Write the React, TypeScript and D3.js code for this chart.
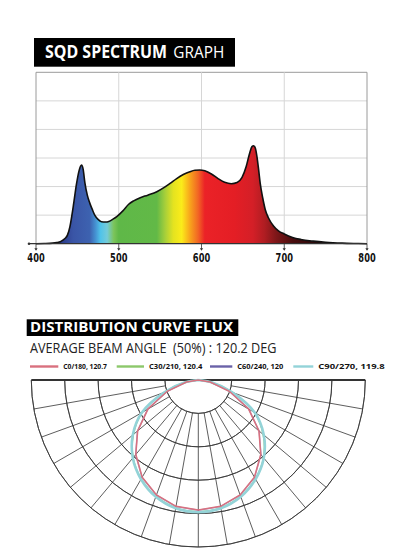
import React from "react";
import * as d3 from "d3";

// ---------- Spectrum data ----------
const wavelengths = [400, 410, 420, 425, 430, 435, 438, 441, 445, 449, 452, 455, 457, 459, 462, 465, 468, 471, 475, 479, 484, 488, 493, 498, 505, 512, 518, 526, 535, 546, 555, 562, 570, 578, 586, 592, 598, 604, 612, 620, 628, 636, 643, 649, 654, 658, 661, 663, 665, 667, 669, 671, 674, 677, 681, 687, 693, 700, 710, 720, 735, 750, 770, 785, 800];
const intensities = [0, 0.005, 0.02, 0.04, 0.08, 0.18, 0.3, 0.6, 1.3, 2.1, 2.55, 2.75, 2.6, 2.15, 1.7, 1.42, 1.2, 1.0, 0.85, 0.77, 0.76, 0.78, 0.86, 0.96, 1.15, 1.38, 1.5, 1.61, 1.7, 1.82, 1.97, 2.11, 2.28, 2.42, 2.52, 2.57, 2.58, 2.55, 2.44, 2.28, 2.15, 2.1, 2.14, 2.32, 2.7, 3.15, 3.4, 3.43, 3.35, 3.05, 2.6, 2.1, 1.6, 1.2, 0.9, 0.62, 0.45, 0.34, 0.22, 0.15, 0.09, 0.05, 0.02, 0.008, 0];
const xTicks = [400, 500, 600, 700, 800];
const yGrid = [1, 2, 3, 4, 5, 6];
const gradStopsNm = [400, 430, 445, 465, 472, 478, 486, 494, 500, 546, 556, 566, 576, 586, 596, 604, 640, 662, 676, 690, 710, 740, 800];
const gradStopsColor = ["#1c2460", "#2a3a8a", "#3a55a6", "#3d62b0", "#4592d2", "#50c3ea", "#74cbd9", "#7cc45a", "#5fb848", "#62b947", "#a6cf3a", "#e4e320", "#fbec1a", "#f8a51c", "#f26524", "#eb2227", "#e41e25", "#d41f27", "#b01d22", "#7e1719", "#4a0d0e", "#2a0909", "#1a0808"];

// ---------- Polar data (angle from nadir, deg; values in cd) ----------
const polarAngles = [-90, -80, -70, -60, -50, -40, -30, -20, -10, 0, 10, 20, 30, 40, 50, 60, 70, 80, 90];
const c0Values = [0, 36, 99, 174, 237, 291, 336, 366, 384, 389, 384, 366, 336, 291, 237, 174, 99, 36, 0];
const c30Values = [0, 40, 108, 194, 254, 304, 342, 371, 389, 395, 389, 371, 342, 304, 254, 194, 108, 40, 0];
const c60Values = [0, 37, 100, 175, 238, 292, 337, 367, 385, 390, 385, 367, 337, 292, 238, 175, 100, 37, 0];
const c90Values = [0, 40, 108, 195, 256, 305, 343, 372, 390, 396, 390, 372, 343, 305, 256, 195, 108, 40, 0];
const seriesNames = ["C0/180, 120.7", "C30/210, 120.4", "C60/240, 120", "C90/270, 119.8"];
const seriesColors = ["#d9707e", "#8cc86a", "#6a62a8", "#93d3d8"];
const ringValues = [100, 200, 300, 400, 500];
const spokeAngles = [-80, -70, -60, -50, -40, -30, -20, -10, 0, 10, 20, 30, 40, 50, 60, 70, 80];

export default function App() {
  // Spectrum geometry
  const x = d3.scaleLinear().domain([400, 800]).range([36, 367]);
  const y = d3.scaleLinear().domain([0, 6]).range([243.7, 72.3]);
  const pts = wavelengths.map((w, i) => [w, intensities[i]] as [number, number]);
  const area = d3.area<[number, number]>().x(d => x(d[0])).y0(y(0)).y1(d => y(d[1])).curve(d3.curveMonotoneX);
  const line = d3.line<[number, number]>().x(d => x(d[0])).y(d => y(d[1])).curve(d3.curveMonotoneX);

  // Polar geometry
  const cx = 198.3, cy = 380;
  const r = d3.scaleLinear().domain([0, 500]).range([0, 167]);
  const rInner = r(100);
  const toA = (deg: number) => Math.PI - (deg * Math.PI) / 180;
  const makePath = (vals: number[], smooth: boolean) =>
    d3.lineRadial<number>()
      .angle((_, i) => toA(polarAngles[i]))
      .radius(v => r(v))
      .curve(smooth ? d3.curveCatmullRom : d3.curveLinear)(vals) as string;
  const arc = (rad: number) =>
    d3.arc()({ innerRadius: rad, outerRadius: rad, startAngle: Math.PI / 2, endAngle: (3 * Math.PI) / 2 }) as string;

  const legendLineX = [30, 116.7, 210, 293.3];
  const legendLineW = [28.3, 27.3, 22.3, 20];
  const legendTextW = [43.7, 53.4, 46, 66.4];

  const gridCol = "#d6d6d6";
  return (
    <svg width={399} height={553} style={{ position: "absolute", left: 0, top: 0, background: "#fff" }}>
      <defs>
        <linearGradient id="spec" gradientUnits="userSpaceOnUse" x1={x(400)} x2={x(800)} y1={0} y2={0}>
          {gradStopsNm.map((nm, i) => (
            <stop key={i} offset={(nm - 400) / 400} stopColor={gradStopsColor[i]} />
          ))}
        </linearGradient>
      </defs>

      {/* Title 1 */}
      <rect x={34} y={38} width={201} height={28.7} fill="#000" />
      <text x={45} y={57.6} fill="#fff" fontFamily="'Open Sans', sans-serif" fontSize={17}>
        <tspan fontWeight={700} textLength={122} lengthAdjust="spacingAndGlyphs">SQD SPECTRUM</tspan>
        <tspan x={173.3} fontWeight={400} textLength={51} lengthAdjust="spacingAndGlyphs">GRAPH</tspan>
      </text>

      {/* Spectrum grid */}
      {yGrid.map(g => (
        <line key={g} x1={36} x2={367} y1={y(g)} y2={y(g)} stroke={g === 6 ? "#9a9a9a" : gridCol} strokeWidth={1} />
      ))}
      {xTicks.map(t => (
        <line key={t} x1={x(t)} x2={x(t)} y1={y(6)} y2={y(0)} stroke={t === 400 || t === 800 ? "#9a9a9a" : gridCol} strokeWidth={1} />
      ))}
      <path d={area(pts) as string} fill="url(#spec)" />
      <path d={line(pts) as string} fill="none" stroke="#111" strokeWidth={1.6} />
      {/* axis */}
      <line x1={29} x2={367} y1={y(0)} y2={y(0)} stroke="#333" strokeWidth={1.2} />
      <circle cx={29} cy={y(0)} r={1.3} fill="#333" />
      {xTicks.map(t => (
        <g key={t}>
          <line x1={x(t)} x2={x(t)} y1={y(0)} y2={y(0) + 6} stroke="#333" strokeWidth={0.8} />
          <path d={`M${x(t) - 1.6},${y(0) + 4.5} L${x(t) + 1.6},${y(0) + 4.5} L${x(t)},${y(0) + 7} Z`} fill="#333" />
          <g transform={`translate(${x(t)},261.8) scale(0.8,1)`}>
            <text x={0} y={0} textAnchor="middle" fontFamily="'Liberation Sans Narrow', 'DejaVu Sans Condensed', sans-serif" fontWeight={700} fontSize={11.5} fill="#111">{t}</text>
          </g>
        </g>
      ))}

      {/* Title 2 */}
      <rect x={26.7} y={319.3} width={211.6} height={16.7} fill="#000" />
      <text x={30} y={332.2} fill="#fff" fontFamily="'Open Sans', sans-serif" fontWeight={700} fontSize={13.5} textLength={203} lengthAdjust="spacingAndGlyphs">DISTRIBUTION CURVE FLUX</text>
      <text x={30} y={353.4} fill="#222" fontFamily="'Open Sans', sans-serif" fontWeight={400} fontSize={14} textLength={246.5} lengthAdjust="spacingAndGlyphs" xmlSpace="preserve">AVERAGE BEAM ANGLE  (50%) : 120.2 DEG</text>

      {/* Legend */}
      {seriesNames.map((n, i) => (
        <g key={n}>
          <line x1={legendLineX[i]} x2={legendLineX[i] + legendLineW[i]} y1={366.5} y2={366.5} stroke={seriesColors[i]} strokeWidth={2.4} />
          <text x={legendLineX[i] + legendLineW[i] + 5} y={369.2} fontFamily="'Open Sans', sans-serif" fontWeight={700} fontSize={7.3} fill="#111" textLength={legendTextW[i]} lengthAdjust="spacingAndGlyphs">{n}</text>
        </g>
      ))}

      {/* Polar grid */}
      <g transform={`translate(${cx},${cy})`}>
        {ringValues.map(v => (
          <path key={v} d={arc(r(v))} fill="none" stroke="#333" strokeWidth={0.8} />
        ))}
        {spokeAngles.map(a => {
          const t = (a * Math.PI) / 180;
          return (
            <line key={a} x1={Math.sin(t) * rInner} y1={Math.cos(t) * rInner} x2={Math.sin(t) * r(500)} y2={Math.cos(t) * r(500)} stroke="#333" strokeWidth={0.8} />
          );
        })}
        <line x1={-r(500)} x2={r(500)} y1={0} y2={0} stroke="#333" strokeWidth={1.8} />
        <path d={makePath(c30Values, true)} fill="none" stroke={seriesColors[1]} strokeWidth={1.6} />
        <path d={makePath(c60Values, false)} fill="none" stroke={seriesColors[2]} strokeWidth={1.4} opacity={0.6} />
        <path d={makePath(c90Values, true)} fill="none" stroke={seriesColors[3]} strokeWidth={2.6} />
        <path d={makePath(c0Values, false)} fill="none" stroke={seriesColors[0]} strokeWidth={1.5} />
      </g>
    </svg>
  );
}
